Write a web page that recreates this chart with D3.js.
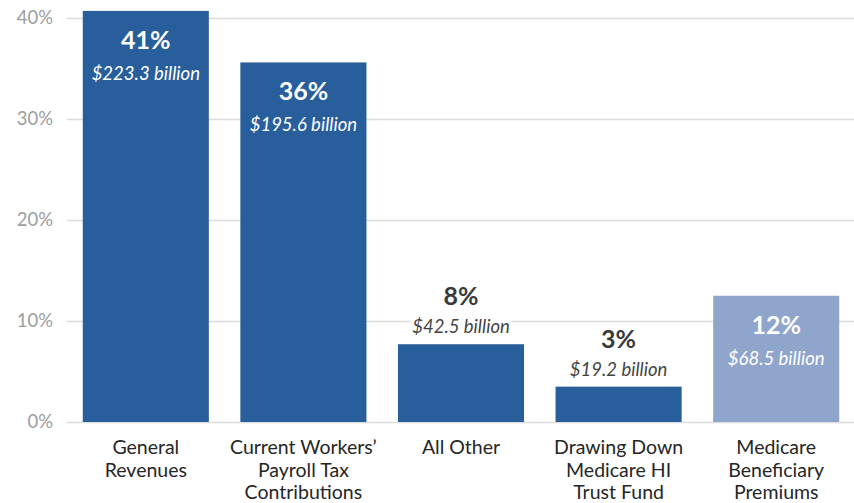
<!DOCTYPE html>
<html lang="en">
	<head>
		<meta charset="utf-8">
		<title>Medicare Financing Sources</title>
		<script type="text/javascript" src="https://cdn.jsdelivr.net/npm/d3@7"></script>
		<style type="text/css">
			body{
				margin: 0;
				background: #fff;
			}
			text{
				font-family: Lato, "Open Sans", sans-serif;
			}
		</style>
	</head>
	<body>
		<script type="text/javascript">

			//Data
			var categories = [
				["General", "Revenues"],
				["Current Workers\u2019", "Payroll Tax", "Contributions"],
				["All Other"],
				["Drawing Down", "Medicare HI", "Trust Fund"],
				["Medicare", "Beneficiary", "Premiums"]
			];
			var shares = [40.7, 35.6, 7.7, 3.5, 12.5];   //bar height, % of total
			var shareLabels = ["41%", "36%", "8%", "3%", "12%"];
			var billions = [223.3, 195.6, 42.5, 19.2, 68.5];
			var sources = ["other", "other", "other", "other", "beneficiary"];
			var yTicks = [0, 10, 20, 30, 40];

			//Width and height
			var w = 854;
			var h = 503;

			var svg = d3.select("body")
						.append("svg")
						.attr("width", w)
						.attr("height", h);

			var x = d3.scaleBand()
						.domain(d3.range(shares.length))
						.range([67, 855])
						.paddingInner(0.2)
						.paddingOuter(0.1);

			var y = d3.scaleLinear()
						.domain([0, 40])
						.range([422, 18]);

			var color = d3.scaleOrdinal()
						.domain(["other", "beneficiary"])
						.range(["#285e9c", "#8fa5cb"]);

			//Gridlines + tick labels
			var yAxis = svg.append("g")
						.attr("transform", "translate(67,0)")
						.call(d3.axisLeft(y)
							.tickValues(yTicks)
							.tickSize(-(w - 67))
							.tickPadding(14)
							.tickFormat(function(d) { return d + "%"; }));
			yAxis.select(".domain").remove();
			yAxis.selectAll(".tick line")
				.attr("stroke", "#dcdcdc")
				.attr("stroke-width", 1.5);
			yAxis.selectAll(".tick text")
				.attr("fill", "#9d9d9d")
				.style("font-size", "18.5px");

			//Bars
			svg.selectAll("rect.bar")
			   .data(shares)
			   .enter()
			   .append("rect")
			   .attr("class", "bar")
			   .attr("x", function(d, i) { return x(i); })
			   .attr("y", function(d) { return y(d); })
			   .attr("width", x.bandwidth())
			   .attr("height", function(d) { return y(0) - y(d); })
			   .attr("fill", function(d, i) { return color(sources[i]); });

			//Value labels: inside the bar when tall enough, above it otherwise
			var labels = svg.selectAll("g.label")
			   .data(shares)
			   .enter()
			   .append("g")
			   .attr("class", "label")
			   .attr("transform", function(d, i) {
					var cx = x(i) + x.bandwidth() / 2;
					var top = d > 10 ? y(d) + 38 : y(d) - 39;
					return "translate(" + cx + "," + top + ")";
			   });

			labels.append("text")
				.attr("text-anchor", "middle")
				.attr("fill", function(d) { return d > 10 ? "#fff" : "#3a3a3a"; })
				.style("font-size", "25px")
				.style("font-weight", "bold")
				.text(function(d, i) { return shareLabels[i]; });

			labels.append("text")
				.attr("text-anchor", "middle")
				.attr("y", function(d) { return d > 10 ? 31 : 28; })
				.attr("fill", function(d) { return d > 10 ? "#fff" : "#444"; })
				.attr("stroke", function(d) { return d > 10 ? "none" : "#fff"; })
				.attr("stroke-width", 8)
				.style("paint-order", "stroke")
				.style("font-size", "18.5px")
				.style("font-style", "italic")
				.text(function(d, i) { return "$" + billions[i].toFixed(1) + " billion"; });

			//Category labels
			var cats = svg.selectAll("text.cat")
			   .data(categories)
			   .enter()
			   .append("text")
			   .attr("class", "cat")
			   .attr("text-anchor", "middle")
			   .attr("fill", "#262626")
			   .style("font-size", "19.5px")
			   .attr("x", function(d, i) { return x(i) + x.bandwidth() / 2; })
			   .attr("y", 454);

			cats.selectAll("tspan")
				.data(function(d) { return d; })
				.enter()
				.append("tspan")
				.attr("x", function() { return d3.select(this.parentNode).attr("x"); })
				.attr("dy", function(d, i) { return i === 0 ? 0 : 22.5; })
				.text(function(d) { return d; });

		</script>
	</body>
</html>
